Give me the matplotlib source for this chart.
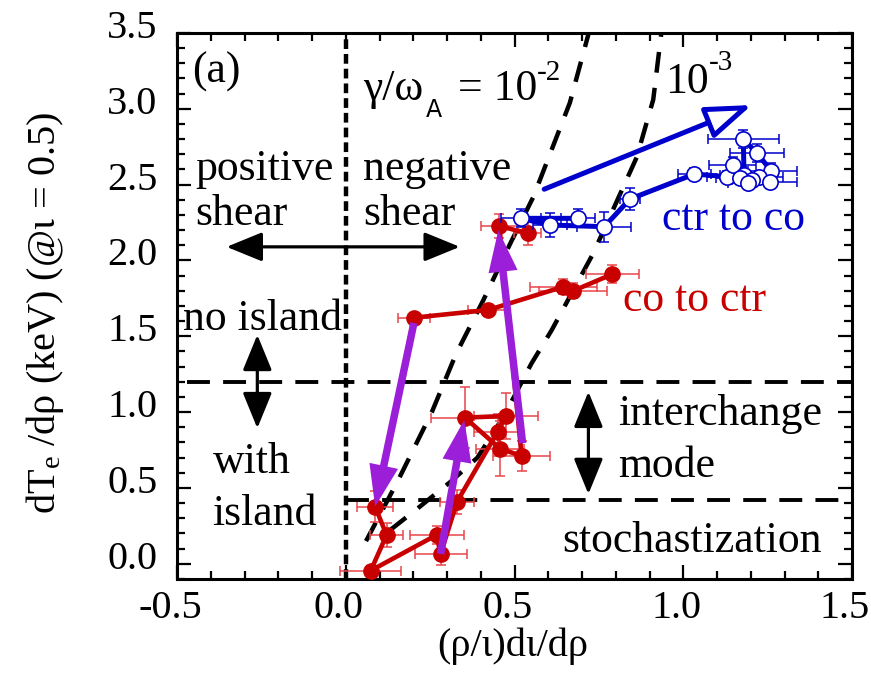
import numpy as np
import matplotlib
matplotlib.use("Agg")
import matplotlib.pyplot as plt
import matplotlib.transforms as mtransforms

plt.rcParams['font.family'] = ['Liberation Serif', 'DejaVu Serif']
plt.rcParams['mathtext.fontset'] = 'custom'
plt.rcParams['mathtext.rm'] = 'Liberation Serif'
plt.rcParams['mathtext.it'] = 'Liberation Serif:italic'
plt.rcParams['axes.unicode_minus'] = False
plt.rcParams['lines.scale_dashes'] = False

# co to ctr (red, filled)
red_x = [0.79, 0.674, 0.645, 0.422, 0.202, 0.087, 0.121, 0.074, 0.269, 0.281,
         0.33, 0.45, 0.475, 0.353, 0.457, 0.521, 0.455, 0.539]
red_y = [1.91, 1.80, 1.827, 1.674, 1.623, 0.377, 0.19, -0.045, 0.19, 0.065,
         0.41, 0.871, 0.975, 0.964, 0.76, 0.711, 2.227, 2.18]
red_xerr = [0.078, 0.1, 0.1, 0.06, 0.047, 0.053, 0.05, 0.09, 0.08, 0.077,
            0.05, 0.07, 0.094, 0.1, 0.07, 0.085, 0.055, 0.04]
red_yerr = [0.06, 0.05, 0.05, 0.04, 0.03, 0.1, 0.08, 0.03, 0.06, 0.07,
            0.08, 0.12, 0.15, 0.2, 0.18, 0.1, 0.08, 0.08]

# ctr to co (blue, open)
blue_x = [0.689, 0.519, 0.605, 0.766, 0.842, 1.033, 1.129, 1.146, 1.18, 1.178,
          1.219, 1.26, 1.225, 1.203, 1.257, 1.168, 1.193]
blue_y = [2.278, 2.278, 2.234, 2.223, 2.405, 2.57, 2.553, 2.63, 2.564, 2.799,
          2.707, 2.592, 2.549, 2.53, 2.52, 2.542, 2.513]
blue_xerr = [0.05, 0.06, 0.05, 0.08, 0.03, 0.05, 0.06, 0.07, 0.07, 0.105,
             0.08, 0.076, 0.07, 0.06, 0.08, 0.07, 0.06]
blue_yerr = [0.06, 0.06, 0.08, 0.1, 0.07, 0.04, 0.04, 0.05, 0.05, 0.06,
             0.06, 0.05, 0.04, 0.04, 0.04, 0.04, 0.04]

# growth-rate contours gamma/omega_A = 1e-2 and 1e-3
c2_x = [0.06, 0.155, 0.255, 0.326, 0.408, 0.487, 0.556, 0.664, 0.72]
c2_y = [0.15, 0.55, 1.0, 1.38, 1.74, 2.11, 2.42, 3.04, 3.5]
c3_x = [0.13, 0.21, 0.31, 0.39, 0.47, 0.55, 0.61, 0.734, 0.862, 0.911, 0.935]
c3_y = [0.22, 0.36, 0.54, 0.70, 0.98, 1.32, 1.54, 2.05, 2.68, 3.06, 3.5]

red = '#C80000'
red_err = '#E8474A'
blue = '#0000CC'
purple = '#9B1FD8'

fig = plt.figure(figsize=(8.71, 6.74), dpi=100)
ax = fig.add_axes([177 / 871, 1 - 579 / 674, 675 / 871, 546 / 674])
ax.set_xlim(-0.5, 1.5)
ax.set_ylim(-0.1, 3.5)


def ftext(x, y, s, **kw):
    # place a text by its pixel position in the 871x674 picture
    fig.text(x / 871, 1 - y / 674, s, **kw)


# region boundaries
ax.plot([0, 0], [-0.1, 3.46], color='k', lw=3.2, dashes=(7, 3.6))
ax.plot([-0.47, 1.5], [1.2, 1.2], color='k', lw=2.8, dashes=(16.5, 9.5))
ax.plot([0, 1.5], [0.42, 0.42], color='k', lw=2.8, dashes=(16.5, 9.5))
ax.plot(c2_x, c2_y, color='k', lw=3.2, dashes=(15, 11))
ax.plot(c3_x, c3_y, color='k', lw=3.2, dashes=(15, 11))

# black double arrows
dbl = dict(arrowstyle='<|-|>,head_length=1.1,head_width=0.45', color='k', lw=2.3,
           shrinkA=0, shrinkB=0, mutation_scale=20)
ax.annotate('', xy=(-0.353, 2.09), xytext=(0.338, 2.09), arrowprops=dbl)
ax.annotate('', xy=(-0.262, 1.51), xytext=(-0.262, 0.894), arrowprops=dbl)
ax.annotate('', xy=(0.719, 1.135), xytext=(0.719, 0.46), arrowprops=dbl)

# red series
ax.errorbar(red_x, red_y, xerr=red_xerr, yerr=red_yerr, fmt='none', ecolor=red_err,
            elinewidth=1.1, capsize=3.5, capthick=1.1, zorder=3)
ax.plot(red_x, red_y, '-o', color=red, lw=3.3, ms=11, zorder=4)

# purple transition arrows
parr = dict(arrowstyle='simple,head_length=1.5,head_width=1.05,tail_width=0.27',
            color=purple, lw=0, shrinkA=0, shrinkB=0, mutation_scale=20)
ax.annotate('', xy=(0.087, 0.377), xytext=(0.202, 1.588), arrowprops=parr, zorder=6)
ax.annotate('', xy=(0.351, 0.948), xytext=(0.281, 0.065), arrowprops=parr, zorder=6)
ax.annotate('', xy=(0.452, 2.2), xytext=(0.524, 0.795), arrowprops=parr, zorder=6)

# blue series
ax.errorbar(blue_x, blue_y, xerr=blue_xerr, yerr=blue_yerr, fmt='none', ecolor=blue,
            elinewidth=1.1, capsize=3.5, capthick=1.1, zorder=7)
ax.plot(blue_x, blue_y, '-', color=blue, lw=3.6, zorder=7)
ax.plot(blue_x, blue_y, 'o', mfc='white', mec=blue, mew=1.2, ms=11, zorder=8)

# blue trend arrow (open head)
ax.annotate('', xy=(1.203, 3.025), xytext=(0.588, 2.47),
            arrowprops=dict(arrowstyle='-|>,head_length=1.4,head_width=0.5',
                            fc='white', ec=blue, lw=3.6, shrinkA=0, shrinkB=0,
                            mutation_scale=20), zorder=8)

# annotations
ts = 31.5
ax.text(-0.456, 3.243, '(a)', fontsize=ts, va='center', ha='left')
ftext(363, 100, 'γ/ω', fontsize=ts, va='baseline')
ftext(426, 117, 'A', fontsize=17, va='baseline', family='DejaVu Sans')
ftext(458, 100, '= 10', fontsize=ts, va='baseline')
ftext(537, 80, '-2', fontsize=21, va='baseline')
ftext(665, 93, '10', fontsize=ts, va='baseline')
ftext(709, 70, '-3', fontsize=21, va='baseline')
ax.text(-0.447, 2.53, 'positive', fontsize=ts, va='baseline')
ax.text(-0.447, 2.234, 'shear', fontsize=ts, va='baseline')
ax.text(0.051, 2.53, 'negative', fontsize=ts, va='baseline')
ax.text(0.051, 2.234, 'shear', fontsize=ts, va='baseline')
ax.text(-0.482, 1.542, 'no island', fontsize=ts, va='baseline')
ax.text(-0.393, 0.599, 'with', fontsize=ts, va='baseline')
ax.text(-0.396, 0.256, 'island', fontsize=ts, va='baseline')
ax.text(0.807, 0.915, 'interchange', fontsize=ts, va='baseline')
ax.text(0.807, 0.575, 'mode', fontsize=ts, va='baseline')
ax.text(0.641, 0.08, 'stochastization', fontsize=ts, va='baseline')
ax.text(0.937, 2.201, 'ctr to co', fontsize=ts, va='baseline', color=blue, zorder=9)
ax.text(0.821, 1.669, 'co to ctr', fontsize=ts, va='baseline', color=red, zorder=9)

# axes styling
ax.set_xticks([-0.5, 0.0, 0.5, 1.0, 1.5])
ax.set_xticklabels(['-0.5', '0.0', '0.5', '1.0', '1.5'])
ax.set_yticks(np.arange(0, 3.51, 0.5))
ax.set_yticklabels(['0.0', '0.5', '1.0', '1.5', '2.0', '2.5', '3.0', '3.5'])
ax.set_xticks(np.arange(-0.5, 1.501, 0.1), minor=True)
ax.set_yticks(np.arange(-0.1, 3.501, 0.1), minor=True)
ax.tick_params(which='both', direction='in', top=True, right=True, width=1.6,
               labelsize=29)
ax.tick_params(which='major', length=10)
ax.tick_params(which='minor', length=6)
ax.tick_params(axis='x', pad=8)
ax.tick_params(axis='y', pad=14)
for sp in ax.spines.values():
    sp.set_linewidth(2.2)

dx = mtransforms.ScaledTranslation(-7 / 100, 0, fig.dpi_scale_trans)
dy = mtransforms.ScaledTranslation(0, 9 / 100, fig.dpi_scale_trans)
for lab in ax.get_xticklabels():
    lab.set_transform(lab.get_transform() + dx)
for lab in ax.get_yticklabels():
    lab.set_transform(lab.get_transform() + dy)

ftext(513, 646, '(ρ/ι)dι/dρ', fontsize=29, ha='center', va='center')
ftext(45, 313, r'dT$_\mathregular{e}$ /dρ (keV) (@ι = 0.5)',
      fontsize=29, rotation=90, ha='center', va='center')

fig.savefig('out.png', dpi=100)
